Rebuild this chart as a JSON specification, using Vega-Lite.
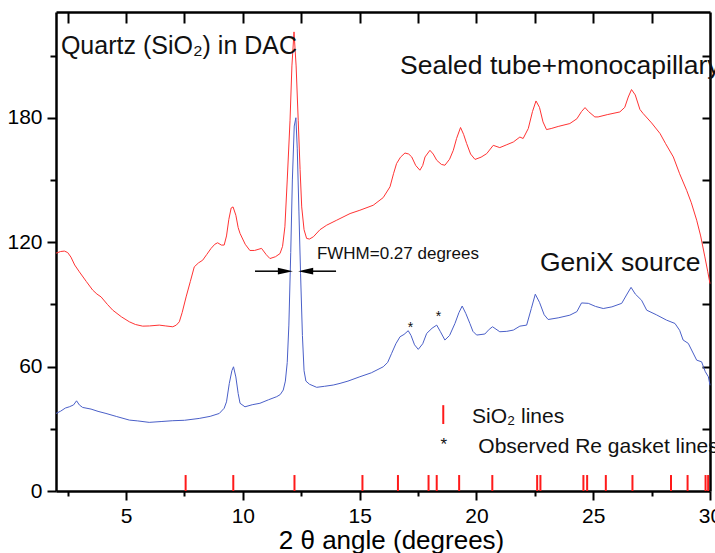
{
  "$schema": "https://vega.github.io/schema/vega-lite/v6.json",
  "width": 654,
  "height": 479,
  "autosize": "none",
  "padding": {"left": 56, "top": 12, "right": 5, "bottom": 62},
  "background": "white",
  "config": {
    "view": {"stroke": null},
    "font": "Liberation Sans"
  },
  "datasets": {
    "red": [
      {"x": 2.0, "y": 114.7}, {"x": 2.2, "y": 115.5}, {"x": 2.36, "y": 115.7}, {"x": 2.5, "y": 115}, {"x": 2.64, "y": 112.8},
      {"x": 2.8, "y": 109}, {"x": 3.0, "y": 105.7}, {"x": 3.3, "y": 101}, {"x": 3.57, "y": 96.9}, {"x": 3.75, "y": 95},
      {"x": 3.93, "y": 93.6}, {"x": 4.2, "y": 90}, {"x": 4.43, "y": 87.2}, {"x": 4.8, "y": 84}, {"x": 5.14, "y": 81.6},
      {"x": 5.4, "y": 80.3}, {"x": 5.71, "y": 79.5}, {"x": 6.0, "y": 79.6}, {"x": 6.42, "y": 80}, {"x": 6.7, "y": 79.6},
      {"x": 7.0, "y": 79.2}, {"x": 7.15, "y": 80}, {"x": 7.28, "y": 81.6}, {"x": 7.4, "y": 86}, {"x": 7.57, "y": 93.6},
      {"x": 7.75, "y": 101}, {"x": 7.92, "y": 108.1}, {"x": 8.1, "y": 110}, {"x": 8.28, "y": 111.3}, {"x": 8.45, "y": 114},
      {"x": 8.64, "y": 117}, {"x": 8.8, "y": 119}, {"x": 8.92, "y": 119.7}, {"x": 9.08, "y": 118.6}, {"x": 9.2, "y": 118.6},
      {"x": 9.3, "y": 123}, {"x": 9.4, "y": 131}, {"x": 9.5, "y": 136.5}, {"x": 9.58, "y": 137}, {"x": 9.7, "y": 133},
      {"x": 9.8, "y": 127}, {"x": 9.88, "y": 124.2}, {"x": 10.1, "y": 119}, {"x": 10.3, "y": 116}, {"x": 10.5, "y": 116},
      {"x": 10.8, "y": 117}, {"x": 11.0, "y": 114}, {"x": 11.16, "y": 112.1}, {"x": 11.4, "y": 113}, {"x": 11.59, "y": 114.5},
      {"x": 11.7, "y": 118}, {"x": 11.8, "y": 127.4}, {"x": 11.9, "y": 150}, {"x": 12.02, "y": 178.8}, {"x": 12.1, "y": 205},
      {"x": 12.19, "y": 221.4}, {"x": 12.28, "y": 205}, {"x": 12.37, "y": 178.8}, {"x": 12.45, "y": 155}, {"x": 12.52, "y": 137},
      {"x": 12.62, "y": 126}, {"x": 12.73, "y": 121.8}, {"x": 12.85, "y": 121.5}, {"x": 13.02, "y": 122.6}, {"x": 13.3, "y": 126},
      {"x": 13.59, "y": 128.2}, {"x": 14.0, "y": 130.5}, {"x": 14.59, "y": 133.8}, {"x": 15.01, "y": 135.4}, {"x": 15.58, "y": 137.8},
      {"x": 16.01, "y": 141.5}, {"x": 16.3, "y": 146.7}, {"x": 16.45, "y": 153}, {"x": 16.58, "y": 157.9}, {"x": 16.75, "y": 161},
      {"x": 16.94, "y": 163}, {"x": 17.1, "y": 162.5}, {"x": 17.23, "y": 161.1}, {"x": 17.4, "y": 157}, {"x": 17.58, "y": 154.7},
      {"x": 17.7, "y": 157}, {"x": 17.8, "y": 161.1}, {"x": 18.01, "y": 164.3}, {"x": 18.15, "y": 162.5}, {"x": 18.3, "y": 159.5},
      {"x": 18.5, "y": 157.5}, {"x": 18.65, "y": 157.1}, {"x": 18.85, "y": 160}, {"x": 19.01, "y": 164.3}, {"x": 19.15, "y": 170},
      {"x": 19.32, "y": 175.3}, {"x": 19.45, "y": 172}, {"x": 19.58, "y": 167.6}, {"x": 19.75, "y": 162.5}, {"x": 19.94, "y": 159.9},
      {"x": 20.2, "y": 161}, {"x": 20.44, "y": 162.7}, {"x": 20.72, "y": 166.7}, {"x": 21.0, "y": 165.6}, {"x": 21.3, "y": 167},
      {"x": 21.58, "y": 168.3}, {"x": 21.86, "y": 170.7}, {"x": 22.0, "y": 170}, {"x": 22.22, "y": 174.8}, {"x": 22.4, "y": 183},
      {"x": 22.55, "y": 188.1}, {"x": 22.7, "y": 185}, {"x": 22.85, "y": 178}, {"x": 23.0, "y": 174.3}, {"x": 23.2, "y": 174.8},
      {"x": 23.5, "y": 175.8}, {"x": 24.0, "y": 177.2}, {"x": 24.3, "y": 179.5}, {"x": 24.5, "y": 183}, {"x": 24.65, "y": 184.9},
      {"x": 24.8, "y": 183}, {"x": 25.07, "y": 180.4}, {"x": 25.21, "y": 180.4}, {"x": 25.6, "y": 181.5}, {"x": 26.14, "y": 182.8},
      {"x": 26.35, "y": 185}, {"x": 26.5, "y": 190}, {"x": 26.64, "y": 193.6}, {"x": 26.8, "y": 191}, {"x": 27.0, "y": 184},
      {"x": 27.14, "y": 182}, {"x": 27.5, "y": 177.5}, {"x": 27.86, "y": 172.4}, {"x": 28.1, "y": 167.5}, {"x": 28.43, "y": 161.1},
      {"x": 28.7, "y": 153}, {"x": 29.0, "y": 145}, {"x": 29.2, "y": 139}, {"x": 29.43, "y": 130.6}, {"x": 29.6, "y": 123},
      {"x": 29.78, "y": 112.9}, {"x": 29.9, "y": 106}, {"x": 30.0, "y": 100}
    ],
    "blue": [
      {"x": 2.0, "y": 37.4}, {"x": 2.2, "y": 38.5}, {"x": 2.4, "y": 40}, {"x": 2.57, "y": 40.6}, {"x": 2.75, "y": 41.5},
      {"x": 2.88, "y": 43.5}, {"x": 3.0, "y": 41.5}, {"x": 3.14, "y": 40.3}, {"x": 3.5, "y": 39.5}, {"x": 3.8, "y": 38.4},
      {"x": 4.14, "y": 37.4}, {"x": 4.6, "y": 35.9}, {"x": 5.14, "y": 34.2}, {"x": 5.5, "y": 33.8}, {"x": 5.99, "y": 33.1},
      {"x": 6.5, "y": 33.5}, {"x": 7.0, "y": 33.9}, {"x": 7.5, "y": 34.1}, {"x": 8.13, "y": 35}, {"x": 8.6, "y": 36},
      {"x": 8.99, "y": 37.4}, {"x": 9.2, "y": 39.9}, {"x": 9.3, "y": 43}, {"x": 9.42, "y": 51.9}, {"x": 9.53, "y": 58},
      {"x": 9.6, "y": 59.9}, {"x": 9.7, "y": 55}, {"x": 9.8, "y": 47}, {"x": 9.88, "y": 42.3}, {"x": 10.09, "y": 40.6},
      {"x": 10.4, "y": 41.6}, {"x": 10.73, "y": 42.3}, {"x": 11.1, "y": 44}, {"x": 11.45, "y": 45.5}, {"x": 11.6, "y": 46.5},
      {"x": 11.73, "y": 48.7}, {"x": 11.82, "y": 53}, {"x": 11.9, "y": 62}, {"x": 11.97, "y": 80}, {"x": 12.05, "y": 115},
      {"x": 12.12, "y": 150}, {"x": 12.2, "y": 176}, {"x": 12.27, "y": 180}, {"x": 12.33, "y": 165}, {"x": 12.4, "y": 135},
      {"x": 12.47, "y": 105}, {"x": 12.55, "y": 75}, {"x": 12.62, "y": 58}, {"x": 12.7, "y": 53}, {"x": 12.85, "y": 51.5},
      {"x": 13.16, "y": 50}, {"x": 13.5, "y": 50.5}, {"x": 13.87, "y": 51.1}, {"x": 14.16, "y": 51.9}, {"x": 14.5, "y": 53},
      {"x": 15.01, "y": 55.1}, {"x": 15.5, "y": 57}, {"x": 16.01, "y": 59.9}, {"x": 16.2, "y": 62}, {"x": 16.37, "y": 66.4},
      {"x": 16.55, "y": 71}, {"x": 16.73, "y": 74.4}, {"x": 16.9, "y": 75.5}, {"x": 17.08, "y": 77.3}, {"x": 17.2, "y": 75},
      {"x": 17.35, "y": 70.5}, {"x": 17.51, "y": 68.3}, {"x": 17.7, "y": 71}, {"x": 17.87, "y": 76}, {"x": 18.1, "y": 78.5},
      {"x": 18.3, "y": 80}, {"x": 18.45, "y": 77}, {"x": 18.65, "y": 72.8}, {"x": 18.85, "y": 75}, {"x": 19.08, "y": 80.8},
      {"x": 19.25, "y": 86}, {"x": 19.39, "y": 89.2}, {"x": 19.55, "y": 85.5}, {"x": 19.72, "y": 80.8}, {"x": 19.85, "y": 77},
      {"x": 20.01, "y": 75.2}, {"x": 20.36, "y": 75.7}, {"x": 20.55, "y": 78}, {"x": 20.69, "y": 79.2}, {"x": 21.0, "y": 76.8},
      {"x": 21.3, "y": 77}, {"x": 21.58, "y": 77.6}, {"x": 21.86, "y": 79.5}, {"x": 22.15, "y": 80}, {"x": 22.35, "y": 88},
      {"x": 22.52, "y": 94.9}, {"x": 22.7, "y": 91}, {"x": 22.9, "y": 85}, {"x": 23.07, "y": 82.7}, {"x": 23.5, "y": 83.5},
      {"x": 24.0, "y": 84.8}, {"x": 24.3, "y": 86.5}, {"x": 24.5, "y": 90.7}, {"x": 24.79, "y": 90.5}, {"x": 25.1, "y": 89},
      {"x": 25.43, "y": 88}, {"x": 25.8, "y": 88.8}, {"x": 26.22, "y": 90.5}, {"x": 26.45, "y": 95}, {"x": 26.62, "y": 98.2},
      {"x": 26.8, "y": 95}, {"x": 27.07, "y": 92}, {"x": 27.29, "y": 87.2}, {"x": 27.7, "y": 85}, {"x": 28.14, "y": 82.4},
      {"x": 28.5, "y": 80.8}, {"x": 28.7, "y": 77.5}, {"x": 28.85, "y": 72.8}, {"x": 29.07, "y": 71.2}, {"x": 29.43, "y": 63.1},
      {"x": 29.64, "y": 62.3}, {"x": 29.8, "y": 57.5}, {"x": 29.93, "y": 55.1}, {"x": 30.0, "y": 51}
    ],
    "sio2": [
      {"x": 7.55}, {"x": 9.59}, {"x": 12.21}, {"x": 15.12}, {"x": 16.64}, {"x": 17.95}, {"x": 18.3}, {"x": 19.26},
      {"x": 20.68}, {"x": 22.6}, {"x": 22.74}, {"x": 24.58}, {"x": 24.74}, {"x": 25.54}, {"x": 26.68}, {"x": 28.33},
      {"x": 29.04}, {"x": 29.81}, {"x": 29.92}
    ],
    "notes": [
      {"kind": "quartz", "x": 2.21, "y": 210.6, "label": "Quartz (SiO₂) in DAC"},
      {"kind": "big", "x": 16.73, "y": 201, "label": "Sealed tube+monocapillary"},
      {"kind": "big", "x": 22.72, "y": 106, "label": "GeniX source"},
      {"kind": "fwhm", "x": 13.17, "y": 112.1, "label": "FWHM=0.27 degrees"},
      {"kind": "legend", "x": 19.81, "y": 32.9, "label": "SiO₂ lines"},
      {"kind": "legend", "x": 20.08, "y": 18.2, "label": "Observed Re gasket lines"},
      {"kind": "star", "x": 17.18, "y": 76.9, "label": "*"},
      {"kind": "star", "x": 18.37, "y": 82, "label": "*"},
      {"kind": "legendstar", "x": 18.6, "y": 19.8, "label": "*"}
    ],
    "legendTick": [{"x": 18.58, "y": 32.3, "y2": 41.4}],
    "arrowLines": [
      {"x": 10.52, "x2": 11.8, "y": 106},
      {"x": 13.99, "x2": 12.7, "y": 106}
    ],
    "arrowHeads": [
      {"x": 11.82, "y": 106, "dir": "right"},
      {"x": 12.69, "y": 106, "dir": "left"}
    ]
  },
  "layer": [
    {
      "data": {"name": "red"},
      "mark": {"type": "line", "color": "#ff3333", "strokeWidth": 1},
      "encoding": {
        "x": {
          "field": "x", "type": "quantitative",
          "scale": {"domain": [2, 30], "nice": false, "zero": false},
          "axis": {
            "orient": "bottom",
            "grid": false,
            "domainColor": "#000000",
            "domainWidth": 2.5,
            "tickColor": "#000000",
            "tickWidth": 2,
            "tickSize": {"condition": {"test": "datum.value % 5 === 0", "value": 9}, "value": 5},
            "values": [2.5, 5, 7.5, 10, 12.5, 15, 17.5, 20, 22.5, 25, 27.5, 30],
            "labelExpr": "datum.value % 5 === 0 ? datum.label : ''",
            "labelFontSize": 21,
            "labelColor": "#000000",
            "labelPadding": 5,
            "labelFlush": false,
            "labelOverlap": false,
            "title": "2 θ angle (degrees)",
            "titleColor": "#000000",
            "titleFontSize": 26,
            "titleFontWeight": "normal",
            "titleBaseline": "alphabetic",
            "titleX": 335,
            "titleY": 57
          }
        },
        "y": {
          "field": "y", "type": "quantitative",
          "scale": {"domain": [0, 231], "nice": false, "zero": false},
          "axis": {
            "orient": "left",
            "grid": false,
            "domainColor": "#000000",
            "domainWidth": 2.5,
            "tickColor": "#000000",
            "tickWidth": 2,
            "tickSize": {"condition": {"test": "datum.value % 60 === 0", "value": 9}, "value": 6},
            "values": [0, 30, 60, 90, 120, 150, 180, 210],
            "labelExpr": "datum.value % 60 === 0 ? datum.label : ''",
            "labelFontSize": 21,
            "labelColor": "#000000",
            "labelPadding": 5,
            "labelOverlap": false,
            "title": null
          }
        }
      }
    },
    {
      "data": {"name": "blue"},
      "mark": {"type": "line", "color": "#4a5fc8", "strokeWidth": 1},
      "encoding": {
        "x": {
          "field": "x", "type": "quantitative",
          "axis": {
            "orient": "top",
            "grid": false,
            "domainColor": "#000000",
            "domainWidth": 2.5,
            "tickColor": "#000000",
            "tickWidth": 2,
            "tickSize": -11,
            "labels": false,
            "values": [2.5, 5, 7.5, 10, 12.5, 15, 17.5, 20, 22.5, 25, 27.5],
            "title": null
          }
        },
        "y": {
          "field": "y", "type": "quantitative",
          "axis": {
            "orient": "right",
            "grid": false,
            "domainColor": "#000000",
            "domainWidth": 2.5,
            "tickColor": "#000000",
            "tickWidth": 2,
            "tickSize": -8,
            "labels": false,
            "values": [30, 60, 90, 120, 150, 180, 210],
            "title": null
          }
        }
      }
    },
    {
      "data": {"name": "sio2"},
      "mark": {"type": "rule", "color": "#ff1a1a", "strokeWidth": 2},
      "encoding": {
        "x": {"field": "x", "type": "quantitative", "axis": null},
        "y": {"datum": 0, "axis": null},
        "y2": {"datum": 7.7}
      }
    },
    {
      "data": {"name": "legendTick"},
      "mark": {"type": "rule", "color": "#ff1a1a", "strokeWidth": 2},
      "encoding": {
        "x": {"field": "x", "type": "quantitative", "axis": null},
        "y": {"field": "y", "type": "quantitative", "axis": null},
        "y2": {"field": "y2"}
      }
    },
    {
      "data": {"name": "arrowLines"},
      "mark": {"type": "rule", "color": "black", "strokeWidth": 1.5},
      "encoding": {
        "x": {"field": "x", "type": "quantitative", "axis": null},
        "x2": {"field": "x2"},
        "y": {"field": "y", "type": "quantitative", "axis": null}
      }
    },
    {
      "data": {"name": "arrowHeads"},
      "transform": [{"filter": "datum.dir === 'right'"}],
      "mark": {"type": "point", "filled": true, "color": "black", "opacity": 1, "size": 225, "strokeWidth": 0, "shape": "M 1 0 L -1 -0.45 L -1 0.45 Z"},
      "encoding": {
        "x": {"field": "x", "type": "quantitative", "axis": null},
        "y": {"field": "y", "type": "quantitative", "axis": null}
      }
    },
    {
      "data": {"name": "arrowHeads"},
      "transform": [{"filter": "datum.dir === 'left'"}],
      "mark": {"type": "point", "filled": true, "color": "black", "opacity": 1, "size": 225, "strokeWidth": 0, "shape": "M -1 0 L 1 -0.45 L 1 0.45 Z"},
      "encoding": {
        "x": {"field": "x", "type": "quantitative", "axis": null},
        "y": {"field": "y", "type": "quantitative", "axis": null}
      }
    },
    {
      "data": {"name": "notes"},
      "transform": [{"filter": "datum.kind === 'quartz'"}],
      "mark": {"type": "text", "align": "left", "baseline": "alphabetic", "fontSize": 25, "color": "#111111"},
      "encoding": {
        "x": {"field": "x", "type": "quantitative", "axis": null},
        "y": {"field": "y", "type": "quantitative", "axis": null},
        "text": {"field": "label"}
      }
    },
    {
      "data": {"name": "notes"},
      "transform": [{"filter": "datum.kind === 'big'"}],
      "mark": {"type": "text", "align": "left", "baseline": "alphabetic", "fontSize": 26.5, "color": "#111111"},
      "encoding": {
        "x": {"field": "x", "type": "quantitative", "axis": null},
        "y": {"field": "y", "type": "quantitative", "axis": null},
        "text": {"field": "label"}
      }
    },
    {
      "data": {"name": "notes"},
      "transform": [{"filter": "datum.kind === 'fwhm'"}],
      "mark": {"type": "text", "align": "left", "baseline": "alphabetic", "fontSize": 17, "color": "#111111"},
      "encoding": {
        "x": {"field": "x", "type": "quantitative", "axis": null},
        "y": {"field": "y", "type": "quantitative", "axis": null},
        "text": {"field": "label"}
      }
    },
    {
      "data": {"name": "notes"},
      "transform": [{"filter": "datum.kind === 'legend'"}],
      "mark": {"type": "text", "align": "left", "baseline": "alphabetic", "fontSize": 21, "color": "#111111"},
      "encoding": {
        "x": {"field": "x", "type": "quantitative", "axis": null},
        "y": {"field": "y", "type": "quantitative", "axis": null},
        "text": {"field": "label"}
      }
    },
    {
      "data": {"name": "notes"},
      "transform": [{"filter": "datum.kind === 'star'"}],
      "mark": {"type": "text", "align": "center", "baseline": "alphabetic", "fontSize": 14, "color": "#111111"},
      "encoding": {
        "x": {"field": "x", "type": "quantitative", "axis": null},
        "y": {"field": "y", "type": "quantitative", "axis": null},
        "text": {"field": "label"}
      }
    },
    {
      "data": {"name": "notes"},
      "transform": [{"filter": "datum.kind === 'legendstar'"}],
      "mark": {"type": "text", "align": "center", "baseline": "alphabetic", "fontSize": 17, "color": "#111111"},
      "encoding": {
        "x": {"field": "x", "type": "quantitative", "axis": null},
        "y": {"field": "y", "type": "quantitative", "axis": null},
        "text": {"field": "label"}
      }
    }
  ],
  "resolve": {"axis": {"x": "independent", "y": "independent"}}
}
